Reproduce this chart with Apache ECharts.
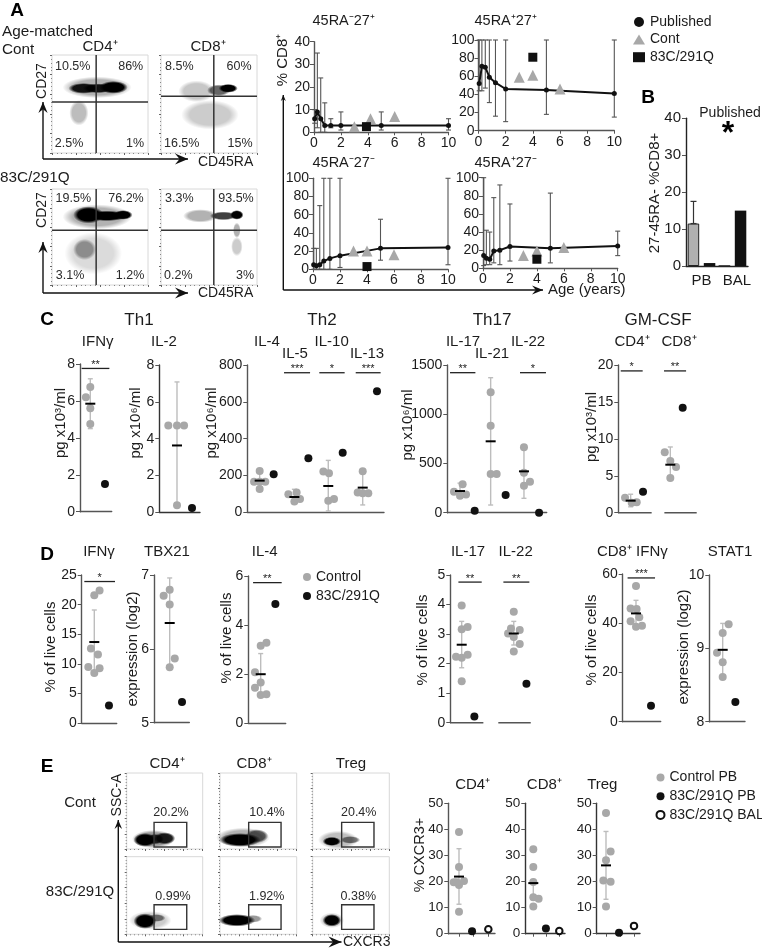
<!DOCTYPE html>
<html><head><meta charset="utf-8">
<style>html,body{margin:0;padding:0;background:#fff}#c{width:762px;height:951px}</style>
<script src="https://cdn.jsdelivr.net/npm/echarts@6/dist/echarts.min.js"></script>
</head><body><div id="c"></div>
<script>
// ---------- Panel A : flow cytometry (clouds = [x, y, rx, ry, darkness], read in % of the plot)
const A_cd4_cont_clouds=[[47,67,36,11,.3],[28,41,10,13,.26],[33,66,16,5.5,.9],[48,66,16,5,.9],[64,67,15,6.5,1]];
const A_cd8_cont_clouds=[[37,63,19,11,.22],[51,39,30,15,.2],[60,64,12,6,.6],[70,66,10,4.5,1]];
const A_cd4_pat_clouds=[[47,71,36,13,.3],[43,33,30,22,.14],[34,37,12,11,.36],[38,73,16,9,1],[57,72,22,5.5,1],[74,73,10,5,1]];
const A_cd8_pat_clouds=[[41,72,18,7,.3],[79,40,6,10,.2],[79,57,4,8,.3],[65,72,14,4.5,.75],[79,73,7,5,1]];
const A_cross=[[46,52],[55,58],[46,57],[55,57]];
// ---------- Panel A : age curves
const ageX=[0.05,0.25,0.5,0.8,1.25,2,5,10];
const RAm27p=[6,9,6,3,3,3,3,3];
const RAm27p_lo=[4,2,0,0,2,1,1,1];
const RAm27p_hi=[10,35,24,13,6,9,9,6];
const RAp27p=[52,71,70,59,53,46,45,41];
const RAp27p_lo=[44,44,47,31,16,10,18,15];
const RAp27p_hi=[100,100,100,100,100,100,100,100];
const RAm27m=[5,4,5,9,12,15,23,24];
const RAm27m_lo=[0,0,0,0,0,2,10,5];
const RAm27m_hi=[23,23,70,100,100,100,55,100];
const RAp27m=[14,11,10,19,20,24,22,24.5];
const RAp27m_lo=[3,4,4,6,4,8,6,14];
const RAp27m_hi=[100,42,40,78,92,71,83,41];
const RAm27p_cont=[[3,2.5],[4.2,6],[6,7]], RAm27p_pat=[[3.9,2.5]];
const RAp27p_cont=[[3,59],[4,61],[6,46]], RAp27p_pat=[[4,81]];
const RAm27m_cont=[[3,20],[4,20],[6,16]], RAm27m_pat=[[4,3]];
const RAp27m_cont=[[3,14],[4,19],[6,23]], RAp27m_pat=[[4,10]];
// ---------- Panel B
const B_cats=['PB','BAL'];
const B_cont=[11.5,0], B_pat=[0.8,15], B_err=[[0,11.5,17.5]];
// ---------- Panel C : [x, y] points, stats [x, mean, low, high], sig [x0, x1, y, stars]
const C_IFN_ctrl=[[.7,6.2],[1,6.75],[1,5.6],[1,4.75]], C_IFN_stats=[[1,5.85,4.5,7.2]], C_IFN_pat=[[2,1.5]], C_IFN_sig=[[.41,2.3,7.76,'**']];
const C_IL2_ctrl=[[.42,4.72],[1,4.72],[1.47,4.72],[1,.38]], C_IL2_stats=[[1,3.63,.38,7.08]], C_IL2_pat=[[2,.23]];
const C_IL4_ctrl=[[.6,166],[1,224],[1,166],[1,127],[1.4,166]];
const C_IL5_ctrl=[[3.05,98],[3.64,107],[3.48,58],[3.88,72]];
const C_IL10_ctrl=[[5.55,221],[5.95,212],[5.9,63],[6.31,72]];
const C_IL13_ctrl=[[8,108],[8.36,223],[8.36,103],[8.76,103]];
const C_Th2_stats=[[1,172,115,228],[3.48,83,58,125],[5.9,143,7,282],[8.36,134,40,223]];
const C_Th2_pat=[[2,206],[4.48,293],[6.93,324],[9.38,657]];
const C_Th2_sig=[[2.74,4.6,758,'***'],[5.26,7.07,758,'*'],[7.86,9.64,758,'***']];
const C_IL17_ctrl=[[.59,213],[1.18,288],[1,173],[1.41,186]];
const C_IL21_ctrl=[[3.09,1222],[3.09,884],[3.09,393],[3.5,393]];
const C_IL22_ctrl=[[5.36,664],[5.36,406],[5.77,315],[5.36,274]];
const C_Th17_stats=[[1,220,165,300],[3.09,725,78,1371],[5.36,420,146,664]];
const C_Th17_pat=[[2,20],[4.11,180],[6.39,0]];
const C_Th17_sig=[[.32,2.05,1422,'**'],[5.09,6.86,1422,'*']];
const C_GM4_ctrl=[[.43,2.03],[1,1.35],[1.43,1.4]], C_GM8_ctrl=[[3.83,8.2],[4.31,7],[4.8,6.2],[4.31,4.7]];
const C_GM_stats=[[.91,1.63,.8,2.5],[4.31,6.5,4.7,8.9]], C_GM_pat=[[1.97,2.84],[5.37,14.2]];
const C_GM_sig=[[.06,1.94,19.2,'*'],[3.77,5.66,19.2,'**']], C_GM_base=[[-.14,2.71],[3.8,6.57]];
// ---------- Panel D
const D_IFN_ctrl=[[1,21.6],[1.36,22.4],[.77,12.6],[1.25,11.6],[.59,9.5],[1.36,9.3],[1,8.5]], D_IFN_stats=[[1,13.7,8.5,19.1]], D_IFN_pat=[[2,3]], D_IFN_sig=[[.32,2.41,23.9,'*']];
const D_TBX_ctrl=[[.51,6.72],[1,6.8],[1,6.6],[1.41,5.87],[1,5.75]], D_TBX_stats=[[1,6.35,5.75,6.96]], D_TBX_pat=[[2,5.28]];
const D_IL4_ctrl=[[1,3.16],[1.39,3.28],[.61,2.08],[1,1.66],[.61,1.45],[1,1.15],[1.39,1.18]], D_IL4_stats=[[1,2,1.15,2.84]], D_IL4_pat=[[2,4.86]], D_IL4_sig=[[.48,2.43,5.73,'**']];
const D_IL17_ctrl=[[1,3.97],[1,3.16],[1.47,3.24],[.55,2.23],[1,2.2],[1.47,2.3],[1,1.4]];
const D_IL22_ctrl=[[5.11,3.76],[4.89,3.19],[5.58,3.14],[4.66,3.02],[5.11,2.9],[5.58,2.66],[5.11,2.41]];
const D_Th17_stats=[[1,2.64,1.86,3.43],[5.11,3.02,2.63,3.43]], D_Th17_pat=[[2,.21],[6.11,1.32]];
const D_Th17_sig=[[.74,2.58,4.76,'**'],[4.29,6.34,4.76,'**']], D_Th17_base=[[.1,2.71],[3.89,6.45]];
const D_CD8_ctrl=[[1,55.1],[.64,46],[1.04,45.8],[1.22,42.4],[.64,40.8],[1,38.6],[1.4,39]], D_CD8_stats=[[1,44,38.6,49.3]], D_CD8_pat=[[2,6.5]], D_CD8_sig=[[.44,2.27,58.4,'***']];
const D_STAT_ctrl=[[1.47,9.33],[1,9.21],[.55,8.94],[1,8.81],[1,8.61]], D_STAT_stats=[[1,8.98,8.61,9.34]], D_STAT_pat=[[2,8.27]];
// ---------- Panel E : flow clouds and gates
const E_clouds=[
 [[35,13,28,12,.4],[24,12,15,9,1],[37,13,12,7,.8],[50,14,14,8,.85]],
 [[30,15,35,13,.3],[48,17,15,9,.6],[26,12,27,9,1]],
 [[33,12,26,12,.25],[49,12,13,5,.5],[25,10,12,6,1]],
 [[31,18,28,12,.2],[39,21,12,5,.5],[24,17,15,10,1]],
 [[43,20,12,5,.4],[22,18,24,8,1]],
 [[25,18,16,10,.2],[25,18,12,8,1]]];
const E_gates=[[36,2.6,79,35],[37.4,2.6,79.6,35],[37.8,2.6,80,35],[36,6.4,79,38],[37.4,6.4,79.6,38],[37.8,6.4,80,38]];
const E_pct=['20.2%','10.4%','20.4%','0.99%','1.92%','0.38%'];
// ---------- Panel E : CXCR3
const E_CD4_ctrl=[[1,39],[1,25.6],[.64,19.7],[1,18.7],[1.34,20.2],[.84,19.7],[1,8.4]], E_CD4_stats=[[1,21.9,11.3,32.6]], E_CD4_pb=[[1.89,.9]], E_CD4_bal=[[3,1.7]];
const E_CD8_ctrl=[[1,32.4],[1,25.6],[1,19.8],[1,14],[1.41,13.4],[1,10.4]], E_CD8_stats=[[1,19.4,13,19.4]], E_CD8_pb=[[1.97,2]], E_CD8_bal=[[3,1]];
const E_Tr_ctrl=[[1,46.3],[1.33,31.5],[1,28.2],[.81,20.4],[1.33,19.9],[1,10.4]], E_Tr_stats=[[1,26.2,13.2,39.2]], E_Tr_pb=[[1.93,.4]], E_Tr_bal=[[3,3]];

const FONT='"Liberation Sans",Arial,sans-serif', INK='#1c1c1c', GREY='#a8a8a8', BLK='#111', AX='#555';
const grid=[],xAxis=[],yAxis=[],series=[],elements=[];

function T(x,y,text,size,o={}){elements.push({type:'text',x,y,rotation:o.rot?Math.PI/2:0,silent:true,z:50,style:{text,fill:o.color||INK,
  font:(o.bold?'bold ':'')+size+'px '+FONT,align:o.align||'center',verticalAlign:'middle'}});}
function arrow(pts,head){ // polyline with filled head at its end
  elements.push({type:'polyline',silent:true,shape:{points:pts},style:{stroke:'#111',lineWidth:1.4,fill:null}});
  const [a,b]=pts.slice(-2); const dx=Math.sign(b[0]-a[0]),dy=Math.sign(b[1]-a[1]),L=head||11,W=L*.42;
  elements.push({type:'polygon',silent:true,shape:{points:[[b[0],b[1]],[b[0]-dx*L-dy*W,b[1]-dy*L-dx*W],[b[0]-dx*L*.65,b[1]-dy*L*.65],[b[0]-dx*L+dy*W,b[1]-dy*L+dx*W]]},style:{fill:'#111'}});
}
function seg(g,arr,color,w){return {type:'custom',xAxisIndex:g,yAxisIndex:g,silent:true,clip:false,data:arr,z:3,
  renderItem:(p,api)=>{const a=api.coord([api.value(0),api.value(1)]),b=api.coord([api.value(2),api.value(3)]);
   return {type:'line',shape:{x1:a[0],y1:a[1],x2:b[0],y2:b[1]},style:{stroke:color,lineWidth:w}};}};}
function clouds(g,arr){return {type:'custom',xAxisIndex:g,yAxisIndex:g,silent:true,data:arr,z:2,
  renderItem:(p,api)=>{const c=api.coord([api.value(0),api.value(1)]),s=api.size([api.value(2),api.value(3)]),a=api.value(4);
   return {type:'circle',x:c[0],y:c[1],scaleX:s[0]/10,scaleY:s[1]/10,shape:{cx:0,cy:0,r:10},
     style:{fill:{type:'radial',x:.5,y:.5,r:.5,colorStops:[{offset:0,color:`rgba(0,0,0,${a})`},{offset:.7,color:`rgba(0,0,0,${a})`},{offset:1,color:'rgba(0,0,0,0)'}]}}};}};}
function errBars(g,arr,color,w,cap,dx=0){ // [x, low, high]
  return {type:'custom',xAxisIndex:g,yAxisIndex:g,silent:true,clip:false,data:arr,z:3,
  renderItem:(p,api)=>{const a=api.coord([api.value(0),api.value(1)]),b=api.coord([api.value(0),api.value(2)]),x=a[0]+dx;
   const L=(x1,y1,x2,y2)=>({type:'line',shape:{x1,y1,x2,y2},style:{stroke:color,lineWidth:w}});
   return {type:'group',children:[L(x,a[1],x,b[1]),L(x-cap,a[1],x+cap,a[1]),L(x-cap,b[1],x+cap,b[1])]};}};}
function baseGrid(l,r,t,b){const g=grid.length;grid.push({left:l,top:t,width:r-l,height:b-t});return g;}
function valY(g,min,max,step,o={}){yAxis[g]={gridIndex:g,type:'value',min,max,interval:step,splitLine:{show:false},
  axisLine:{show:true,onZero:false,lineStyle:{color:o.axisColor||AX,width:1.4}},axisTick:{show:true,length:4,lineStyle:{color:AX}},
  axisLabel:{color:INK,fontFamily:FONT,fontSize:o.font||14,margin:o.margin||5,showMinLabel:true,showMaxLabel:true,formatter:v=>String(v)}};}

// ---- flow plot
function flow(l,r,t,b,cl,o){const g=grid.length;grid.push({left:l,top:t,width:r-l,height:b-t,show:true,borderColor:'#d8d8d8',borderWidth:1,backgroundColor:'#fff'});
  const tick={show:true,length:2,lineStyle:{color:'#666',width:1}};
  xAxis[g]={gridIndex:g,type:'value',min:0,max:100,interval:25,splitLine:{show:false},axisLine:{show:false},axisTick:tick,axisLabel:{show:false},minorTick:{show:true,length:1,splitNumber:5,lineStyle:{color:'#888'}}};
  yAxis[g]={gridIndex:g,type:'value',min:0,max:100,interval:20,splitLine:{show:false},axisLine:{show:false},axisTick:tick,axisLabel:{show:false},minorTick:{show:true,length:1,splitNumber:5,lineStyle:{color:'#888'}}};
  series.push(clouds(g,cl));
  if(o.cross){const [v,h]=o.cross;series.push(seg(g,[[v,0,v,100],[0,h,100,h]],'#333',1.5));}
  if(o.gate){const q=o.gate;series.push({type:'custom',xAxisIndex:g,yAxisIndex:g,silent:true,data:[q],z:4,
    renderItem:(p,api)=>{const a=api.coord([api.value(0),api.value(1)]),c=api.coord([api.value(2),api.value(3)]);
     return {type:'rect',shape:{x:a[0],y:c[1],width:c[0]-a[0],height:a[1]-c[1]},style:{fill:null,stroke:'#333',lineWidth:1.4}};}});}
}
// ---- age plot
function age(l,r,t,b,ymax,step,mean,lo,hi,cont,pat){const g=baseGrid(l,r,t,b);
  xAxis[g]={gridIndex:g,type:'value',min:0,max:10,interval:2,splitLine:{show:false},axisLine:{onZero:false,lineStyle:{color:AX,width:1.4}},
    axisTick:{length:3,lineStyle:{color:AX}},axisLabel:{color:INK,fontFamily:FONT,fontSize:14,margin:4,hideOverlap:false}};
  valY(g,0,ymax,step,{margin:4});
  series.push(errBars(g,ageX.map((x,i)=>[x,lo[i],hi[i]]),'#555',1.1,2.5));
  series.push({type:'line',name:'Published',xAxisIndex:g,yAxisIndex:g,data:ageX.map((x,i)=>[x,mean[i]]),symbol:'circle',symbolSize:5,showSymbol:true,
    lineStyle:{color:BLK,width:2},itemStyle:{color:BLK},z:5,animation:false});
  series.push({type:'scatter',name:'Cont',xAxisIndex:g,yAxisIndex:g,data:cont,symbol:'triangle',symbolSize:11,itemStyle:{color:GREY,opacity:1},z:6});
  series.push({type:'scatter',name:'83C/291Q',xAxisIndex:g,yAxisIndex:g,data:pat,symbol:'rect',symbolSize:9,itemStyle:{color:BLK,opacity:1},z:7});
}
// ---- dot plot
function dot(c){const g=baseGrid(c.l,c.r,c.t,c.b),min=1-(c.col-c.l)/c.unit,max=1+(c.r-c.col)/c.unit;
  xAxis[g]={gridIndex:g,type:'value',min,max,show:true,splitLine:{show:false},
    axisLine:{show:!c.base,onZero:false,lineStyle:{color:c.axisColor||AX,width:1.4}},
    axisTick:{show:!!c.ticks,length:3,customValues:c.ticks||[],lineStyle:{color:AX}},axisLabel:{show:false}};
  valY(g,c.ymin,c.ymax,c.step,{font:c.font,axisColor:c.axisColor});
  const N=c.names||['Control','83C/291Q '];
  series.push(errBars(g,c.stats.map(s=>[s[0],s[2],s[3]]),'#bdbdbd',1.4,2.5));
  series.push({type:'scatter',name:N[0],xAxisIndex:g,yAxisIndex:g,data:c.ctrl,symbol:'circle',symbolSize:8,itemStyle:{color:GREY,opacity:1},z:4});
  series.push({type:'custom',xAxisIndex:g,yAxisIndex:g,silent:true,clip:false,data:c.stats.map(s=>[s[0],s[1]]),z:6,
    renderItem:(p,api)=>{const a=api.coord([api.value(0),api.value(1)]);return {type:'line',shape:{x1:a[0]-5,y1:a[1],x2:a[0]+5,y2:a[1]},style:{stroke:'#000',lineWidth:2}};}});
  series.push({type:'scatter',name:N[1],xAxisIndex:g,yAxisIndex:g,data:c.pat,symbol:'circle',symbolSize:8,clip:false,itemStyle:{color:BLK,opacity:1},z:5});
  if(c.open) series.push({type:'scatter',name:N[2],xAxisIndex:g,yAxisIndex:g,data:c.open,symbol:'circle',symbolSize:6.5,clip:false,itemStyle:{color:'#fff',borderColor:BLK,borderWidth:2,opacity:1},z:5});
  if(c.sig){series.push(seg(g,c.sig.map(s=>[s[0],s[2],s[1],s[2]]),'#222',1.3));
    series.push({type:'custom',xAxisIndex:g,yAxisIndex:g,silent:true,clip:false,data:c.sig.map(s=>[(s[0]+s[1])/2,s[2]]),z:6,
      renderItem:(p,api)=>{const a=api.coord([api.value(0),api.value(1)]);
        return {type:'text',x:a[0],y:a[1]-3.5,style:{text:c.sig[p.dataIndex][3],fill:INK,font:'11px '+FONT,align:'center',verticalAlign:'middle'}};}});}
  if(c.base) series.push(seg(g,c.base.map(s=>[s[0],c.ymin,s[1],c.ymin]),c.baseColor||AX,1.4));
}

// ===== A
flow(52,148,55,153,A_cd4_cont_clouds,{cross:A_cross[0]});
flow(161,257,55,153,A_cd8_cont_clouds,{cross:A_cross[1]});
flow(52,148,189,285,A_cd4_pat_clouds,{cross:A_cross[2]});
flow(161,257,189,285,A_cd8_pat_clouds,{cross:A_cross[3]});
age(314,448.5,41.7,132.3,40,10,RAm27p,RAm27p_lo,RAm27p_hi,RAm27p_cont,RAm27p_pat);
age(478.5,614.3,40,130.7,100,20,RAp27p,RAp27p_lo,RAp27p_hi,RAp27p_cont,RAp27p_pat);
age(313,448,178.3,269.3,100,20,RAm27m,RAm27m_lo,RAm27m_hi,RAm27m_cont,RAm27m_pat);
age(483,617.7,177.7,268.3,100,20,RAp27m,RAp27m_lo,RAp27m_hi,RAp27m_cont,RAp27m_pat);
// ===== B
{const g=baseGrid(686,748,118.3,266);
 xAxis[g]={gridIndex:g,type:'category',data:[{value:B_cats[0]},{value:B_cats[1],textStyle:{padding:[0,0,0,9]}}],axisLine:{lineStyle:{color:'#222',width:1.4}},
   axisTick:{alignWithLabel:true,length:3,lineStyle:{color:'#222'}},axisLabel:{color:INK,fontFamily:FONT,fontSize:15,margin:7,interval:0}};
 valY(g,0,40,10,{font:15,axisColor:'#222'});
 series.push({type:'bar',name:'Cont PB',xAxisIndex:g,yAxisIndex:g,data:B_cont,barWidth:11.5,barGap:'40%',itemStyle:{color:'#b0b0b0',borderColor:'#222',borderWidth:1}});
 series.push({type:'bar',name:'Pat PB',xAxisIndex:g,yAxisIndex:g,data:B_pat,barWidth:11.5,itemStyle:{color:BLK}});
 series.push(errBars(g,B_err,'#333',1.2,3,-8));}
// ===== C
dot({l:80,r:111.7,t:364,b:511.7,col:90.3,unit:14.67,ymin:0,ymax:8,step:2,ctrl:C_IFN_ctrl,stats:C_IFN_stats,pat:C_IFN_pat,sig:C_IFN_sig});
dot({l:159.3,r:200,t:365,b:512.3,col:177,unit:15,ymin:0,ymax:8,step:2,ctrl:C_IL2_ctrl,stats:C_IL2_stats,pat:C_IL2_pat,axisColor:'#333'});
dot({l:247.3,r:384,t:365,b:512.3,col:259.67,unit:14,ymin:0,ymax:800,step:200,ctrl:[...C_IL4_ctrl,...C_IL5_ctrl,...C_IL10_ctrl,...C_IL13_ctrl],stats:C_Th2_stats,pat:C_Th2_pat,sig:C_Th2_sig});
dot({l:447.3,r:546.7,t:365,b:512.7,col:460,unit:14.67,ymin:0,ymax:1500,step:500,ctrl:[...C_IL17_ctrl,...C_IL21_ctrl,...C_IL22_ctrl],stats:C_Th17_stats,pat:C_Th17_pat,sig:C_Th17_sig});
dot({l:618.3,r:696.7,t:365,b:512.7,col:631.7,unit:11.67,ymin:0,ymax:20,step:5,ctrl:[...C_GM4_ctrl,...C_GM8_ctrl],stats:C_GM_stats,pat:C_GM_pat,sig:C_GM_sig,base:C_GM_base});
// ===== D
dot({l:81.7,r:116.7,t:575,b:723.3,col:94.3,unit:14.67,ymin:0,ymax:25,step:5,ctrl:D_IFN_ctrl,stats:D_IFN_stats,pat:D_IFN_pat,sig:D_IFN_sig});
dot({l:154,r:189.3,t:575,b:722.7,col:169.7,unit:12.33,ymin:5,ymax:7,step:1,ctrl:D_TBX_ctrl,stats:D_TBX_stats,pat:D_TBX_pat});
dot({l:248.3,r:285.7,t:576,b:723.3,col:260.7,unit:14.67,ymin:0,ymax:6,step:2,ctrl:D_IL4_ctrl,stats:D_IL4_stats,pat:D_IL4_pat,sig:D_IL4_sig});
dot({l:450.3,r:530.7,t:575,b:722.7,col:461.7,unit:12.67,ymin:0,ymax:5,step:1,ctrl:[...D_IL17_ctrl,...D_IL22_ctrl],stats:D_Th17_stats,pat:D_Th17_pat,sig:D_Th17_sig,base:D_Th17_base});
dot({l:622.7,r:660.7,t:574,b:721.7,col:636,unit:15,ymin:0,ymax:60,step:20,ctrl:D_CD8_ctrl,stats:D_CD8_stats,pat:D_CD8_pat,sig:D_CD8_sig});
dot({l:709.3,r:745,t:575,b:721.7,col:722.7,unit:12.67,ymin:8,ymax:10,step:1,ctrl:D_STAT_ctrl,stats:D_STAT_stats,pat:D_STAT_pat});
// ===== E flow
const ex=[[126.7,202.7],[220,296.7],[312.7,389.3]], ey=[[773,849],[856.7,934.3]];
E_clouds.forEach((cl,i)=>{const c=ex[i%3],r=ey[i<3?0:1];flow(c[0],c[1],r[0],r[1],cl,{gate:E_gates[i]});});
// ===== E dots
const EN=['Control PB','83C/291Q PB','83C/291Q BAL'];
dot({l:448.3,r:495,t:803.3,b:933.7,col:459,unit:14.67,ymin:0,ymax:50,step:10,font:13.5,ctrl:E_CD4_ctrl,stats:E_CD4_stats,pat:E_CD4_pb,open:E_CD4_bal,ticks:[1,2,3],names:EN});
dot({l:525.3,r:565,t:803.3,b:933.7,col:533.3,unit:13,ymin:0,ymax:50,step:10,font:13.5,ctrl:E_CD8_ctrl,stats:E_CD8_stats,pat:E_CD8_pb,open:E_CD8_bal,ticks:[1,2,3],names:EN,axisColor:'#333'});
dot({l:596.7,r:640,t:803.3,b:933.7,col:606,unit:14,ymin:0,ymax:50,step:10,font:13.5,ctrl:E_Tr_ctrl,stats:E_Tr_stats,pat:E_Tr_pb,open:E_Tr_bal,ticks:[1,2,3],names:EN,axisColor:'#333'});

// ===== texts, arrows
[['A',17,11],['B',648,98],['C',47,320],['D',47,555],['E',47,767]].forEach(p=>T(p[1],p[2],p[0],19,{bold:true,color:'#000'}));
T(2,31.5,'Age-matched',15.3,{align:'left'});T(2,50,'Cont',15.3,{align:'left'});T(0,178,'83C/291Q',15.3,{align:'left'});
T(100,47,'CD4⁺',15);T(208,47,'CD8⁺',15);
T(41.7,81,'CD27',14,{rot:1});T(41.7,210,'CD27',14,{rot:1});T(198,162,'CD45RA',14,{align:'left'});T(198,293,'CD45RA',14,{align:'left'});
arrow([[43,159],[43,102]],11);arrow([[43,159],[188,159]],13);arrow([[43,293],[43,242]],11);arrow([[43,293],[188,293]],13);
[[72.7,66.7,'10.5%'],[130.7,66.7,'86%'],[69,144,'2.5%'],[135,144,'1%'],[179.3,66.7,'8.5%'],[239,66.7,'60%'],[181.7,144,'16.5%'],[240,144,'15%'],
 [73.3,199,'19.5%'],[126,199,'76.2%'],[70,276,'3.1%'],[130,276,'1.2%'],[179.3,199,'3.3%'],[236,199,'93.5%'],[178.3,276,'0.2%'],[245,276,'3%']].forEach(p=>T(p[0],p[1],p[2],12.5,{color:'#2a2a2a'}));
T(312.5,21,'45RA⁻27⁺',14.5,{align:'left'});T(474.5,21,'45RA⁺27⁺',14.5,{align:'left'});T(312.5,163,'45RA⁻27⁻',14.5,{align:'left'});T(474.5,163,'45RA⁺27⁻',14.5,{align:'left'});
T(282.5,60,'% CD8⁺',15,{rot:1});
arrow([[283.3,290],[283.3,95]],6);arrow([[283.3,290],[543,290]],11);T(548,290,'Age (years)',15,{align:'left'});
T(655,193,'27-45RA- %CD8+',15,{rot:1});T(730,113,'Published',14);T(728,134,'*',32,{bold:true,color:'#000'});
// C
T(139,320,'Th1',17);T(322,320,'Th2',17);T(492,320,'Th17',17);T(658,320,'GM-CSF',17);
[[97.7,342,'IFNγ'],[164,342,'IL-2'],[267,342,'IL-4'],[295,354,'IL-5'],[331.7,342,'IL-10'],[367,354,'IL-13'],[463,342,'IL-17'],[492,354,'IL-21'],[528,342,'IL-22'],[632,342,'CD4⁺'],[679,342,'CD8⁺']].forEach(p=>T(p[0],p[1],p[2],15));
T(60.7,423,'pg x10³/ml',15,{rot:1});T(135.7,423,'pg x10⁶/ml',15,{rot:1});T(211.7,423,'pg x10⁶/ml',15,{rot:1});T(408,425,'pg x10⁶/ml',15,{rot:1});T(591.7,427,'pg x10³/ml',15,{rot:1});
// D
[[99,552,'IFNγ'],[167,552,'TBX21'],[264.7,552,'IL-4'],[468,552,'IL-17'],[515.7,552,'IL-22'],[632.3,552,'CD8⁺ IFNγ'],[730,552,'STAT1']].forEach(p=>T(p[0],p[1],p[2],15));
T(50.7,647,'% of live cells',15,{rot:1});T(133.3,649,'expression (log2)',15,{rot:1});T(226.7,638,'% of live cells',15,{rot:1});T(423.3,640,'% of live cells',15,{rot:1});T(591.7,640,'% of live cells',15,{rot:1});T(683.7,647,'expression (log2)',15,{rot:1});
// E
[[167,764,'CD4⁺'],[254,764,'CD8⁺'],[351,764,'Treg'],[80,803,'Cont'],[80,892,'83C/291Q']].forEach(p=>T(p[0],p[1],p[2],15));
T(117,795,'SSC-A',14,{rot:1});T(343,942,'CXCR3',14,{align:'left'});
arrow([[118.3,942],[118.3,820]],9);arrow([[118.3,942],[341.5,942]],13);
[[171,813],[267,813],[358.7,813],[173,897],[266.7,897],[358.3,897]].forEach((p,i)=>T(p[0],p[1],E_pct[i],12.5,{color:'#2a2a2a'}));
[[472.7,784.5,'CD4⁺'],[544.3,784.5,'CD8⁺'],[602.3,784.5,'Treg']].forEach(p=>T(p[0],p[1],p[2],15));
T(420,855,'% CXCR3+',14.5,{rot:1});

const legBase={orient:'vertical',padding:0,selectedMode:false,textStyle:{fontFamily:FONT,fontSize:14,color:INK}};
const legend=[
 {...legBase,left:633,top:15,itemWidth:12,itemHeight:10,itemGap:3.6,data:[{name:'Published',icon:'circle',itemStyle:{color:BLK}},{name:'Cont',icon:'triangle',itemStyle:{color:GREY}},{name:'83C/291Q',icon:'rect',itemStyle:{color:BLK}}]},
 {...legBase,left:303,top:570,itemWidth:8,itemHeight:8,itemGap:5,data:[{name:'Control',icon:'circle',itemStyle:{color:GREY}},{name:'83C/291Q ',icon:'circle',itemStyle:{color:BLK}}]},
 {...legBase,left:655.5,top:770.5,itemWidth:8,itemHeight:8,itemGap:4.7,data:[{name:'Control PB',icon:'circle',itemStyle:{color:GREY}},{name:'83C/291Q PB',icon:'circle',itemStyle:{color:BLK}},{name:'83C/291Q BAL',icon:'circle',itemStyle:{color:'#fff',borderColor:BLK,borderWidth:2}}]}
];

const chart=echarts.init(document.getElementById('c'),null,{renderer:'canvas'});
chart.setOption({animation:false,backgroundColor:'#fff',textStyle:{fontFamily:FONT},grid,xAxis,yAxis,series,legend,graphic:{elements}});
</script></body></html>
